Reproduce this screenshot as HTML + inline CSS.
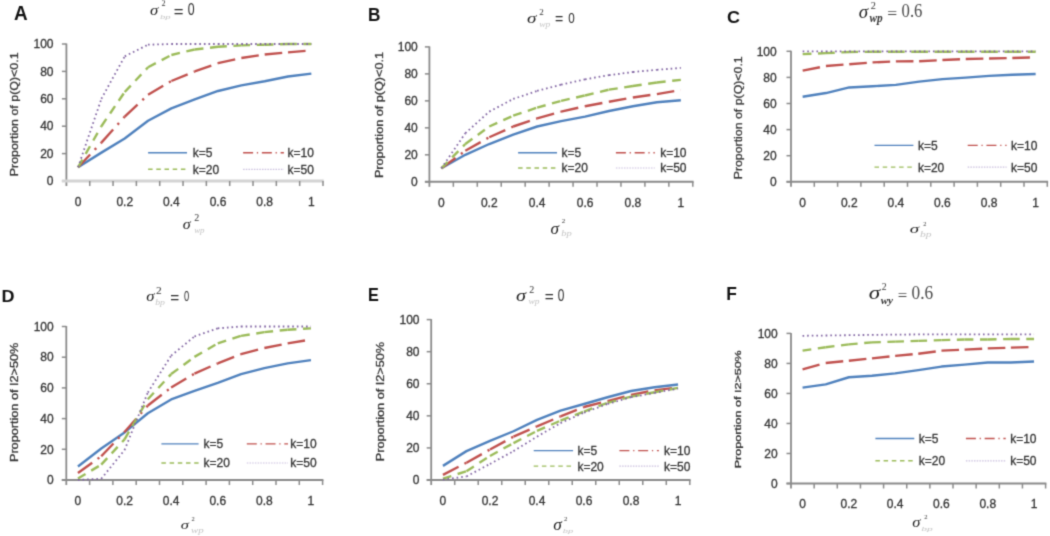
<!DOCTYPE html>
<html><head><meta charset="utf-8"><title>Figure</title>
<style>
html,body{margin:0;padding:0;background:#fff;}
body{width:1050px;height:536px;overflow:hidden;}
svg{display:block;}
.tk{font-family:"Liberation Sans", sans-serif;font-size:12px;fill:#333333;stroke:#333333;stroke-width:0.3px;}
.lg{font-family:"Liberation Sans", sans-serif;font-size:12px;fill:#333333;stroke:#333333;stroke-width:0.3px;}
.yt{font-family:"Liberation Sans", sans-serif;font-size:12px;fill:#333333;}
.let{font-family:"Liberation Sans", sans-serif;font-size:18px;font-weight:bold;fill:#111;}
.sig{font-family:"Liberation Serif", serif;font-style:italic;font-size:17px;fill:#222;}
.sig2{font-family:"Liberation Serif", serif;font-style:italic;font-size:16px;fill:#222;}
.two{font-family:"Liberation Serif", serif;font-size:10px;fill:#333;}
.two2{font-family:"Liberation Serif", serif;font-size:9px;fill:#333;}
.sub{font-family:"Liberation Serif", serif;font-style:italic;font-size:10px;fill:#bbb;}
.sub2{font-family:"Liberation Serif", serif;font-style:italic;font-size:9px;fill:#bbb;}
.subb{font-family:"Liberation Serif", serif;font-style:italic;font-weight:bold;font-size:10px;fill:#333;}
.eq{font-family:"Liberation Sans", sans-serif;fill:#333;}
.eqs{font-family:"Liberation Serif", serif;fill:#333;}
</style></head>
<body>
<svg width="1050" height="536" viewBox="0 0 1050 536">
<defs><filter id="bl" x="0" y="0" width="1050" height="536" filterUnits="userSpaceOnUse" color-interpolation-filters="sRGB"><feConvolveMatrix order="3" kernelMatrix="0.02768 0.11101 0.02768 0.11101 0.44521 0.11101 0.02768 0.11101 0.02768" divisor="1" edgeMode="none" preserveAlpha="false"/></filter></defs>
<rect x="0" y="0" width="1050" height="536" fill="#fff"/>
<g filter="url(#bl)">
<line x1="66.4" y1="43.5" x2="66.4" y2="186" stroke="#8a8a8a" stroke-width="1.8"/>
<line x1="61.9" y1="44" x2="66.4" y2="44" stroke="#8a8a8a" stroke-width="1.5"/>
<line x1="61.9" y1="71.4" x2="66.4" y2="71.4" stroke="#8a8a8a" stroke-width="1.5"/>
<line x1="61.9" y1="98.8" x2="66.4" y2="98.8" stroke="#8a8a8a" stroke-width="1.5"/>
<line x1="61.9" y1="126.2" x2="66.4" y2="126.2" stroke="#8a8a8a" stroke-width="1.5"/>
<line x1="61.9" y1="153.6" x2="66.4" y2="153.6" stroke="#8a8a8a" stroke-width="1.5"/>
<line x1="61.9" y1="181" x2="66.4" y2="181" stroke="#8a8a8a" stroke-width="1.5"/>
<line x1="61.9" y1="181" x2="323.8" y2="181" stroke="#d3d3d3" stroke-width="3.2"/>
<line x1="89.73" y1="181" x2="89.73" y2="186" stroke="#8a8a8a" stroke-width="1.5"/>
<line x1="113.05" y1="181" x2="113.05" y2="186" stroke="#8a8a8a" stroke-width="1.5"/>
<line x1="136.38" y1="181" x2="136.38" y2="186" stroke="#8a8a8a" stroke-width="1.5"/>
<line x1="159.71" y1="181" x2="159.71" y2="186" stroke="#8a8a8a" stroke-width="1.5"/>
<line x1="183.04" y1="181" x2="183.04" y2="186" stroke="#8a8a8a" stroke-width="1.5"/>
<line x1="206.36" y1="181" x2="206.36" y2="186" stroke="#8a8a8a" stroke-width="1.5"/>
<line x1="229.69" y1="181" x2="229.69" y2="186" stroke="#8a8a8a" stroke-width="1.5"/>
<line x1="253.02" y1="181" x2="253.02" y2="186" stroke="#8a8a8a" stroke-width="1.5"/>
<line x1="276.35" y1="181" x2="276.35" y2="186" stroke="#8a8a8a" stroke-width="1.5"/>
<line x1="299.67" y1="181" x2="299.67" y2="186" stroke="#8a8a8a" stroke-width="1.5"/>
<line x1="323" y1="181" x2="323" y2="186" stroke="#8a8a8a" stroke-width="1.5"/>
<text x="53.5" y="48.2" text-anchor="end" class="tk">100</text>
<text x="53.5" y="75.6" text-anchor="end" class="tk">80</text>
<text x="53.5" y="103" text-anchor="end" class="tk">60</text>
<text x="53.5" y="130.4" text-anchor="end" class="tk">40</text>
<text x="53.5" y="157.8" text-anchor="end" class="tk">20</text>
<text x="53.5" y="185.2" text-anchor="end" class="tk">0</text>
<text x="78.06" y="205.6" text-anchor="middle" class="tk">0</text>
<text x="124.72" y="205.6" text-anchor="middle" class="tk">0.2</text>
<text x="171.37" y="205.6" text-anchor="middle" class="tk">0.4</text>
<text x="218.03" y="205.6" text-anchor="middle" class="tk">0.6</text>
<text x="264.68" y="205.6" text-anchor="middle" class="tk">0.8</text>
<text x="311.34" y="205.6" text-anchor="middle" class="tk">1</text>
<polyline points="78.06,167.3 101.39,152.64 124.72,138.53 148.05,120.72 171.37,108.39 194.7,99.48 218.03,90.99 241.35,85.37 264.68,81.26 288.01,76.47 311.34,73.59" fill="none" stroke="#4f81bd" stroke-width="2.4" stroke-linejoin="round"/>
<g stroke="#c0504d" stroke-width="2.4" stroke-dasharray="17.6 6.6 2.2 6.6" fill="none"><line x1="78.06" y1="167.3" x2="101.39" y2="142.64"/><line x1="101.39" y1="142.64" x2="124.72" y2="116.61"/><line x1="124.72" y1="116.61" x2="148.05" y2="94.69"/><line x1="148.05" y1="94.69" x2="171.37" y2="80.99"/><line x1="171.37" y1="80.99" x2="194.7" y2="71.4"/><line x1="194.7" y1="71.4" x2="218.03" y2="63.18"/><line x1="218.03" y1="63.18" x2="241.35" y2="57.97"/><line x1="241.35" y1="57.97" x2="264.68" y2="54.55"/><line x1="264.68" y1="54.55" x2="288.01" y2="52.36"/><line x1="288.01" y1="52.36" x2="311.34" y2="50.44"/></g>
<g stroke="#9bbb59" stroke-width="2.4" stroke-dasharray="8.8 6.6" fill="none"><line x1="78.06" y1="167.3" x2="101.39" y2="126.2"/><line x1="101.39" y1="126.2" x2="124.72" y2="91.95"/><line x1="124.72" y1="91.95" x2="148.05" y2="67.29"/><line x1="148.05" y1="67.29" x2="171.37" y2="54.96"/><line x1="171.37" y1="54.96" x2="194.7" y2="49.48"/><line x1="194.7" y1="49.48" x2="218.03" y2="46.74"/><line x1="218.03" y1="46.74" x2="241.35" y2="45.37"/><line x1="241.35" y1="45.37" x2="264.68" y2="44.69"/><line x1="264.68" y1="44.69" x2="288.01" y2="44"/><line x1="288.01" y1="44" x2="311.34" y2="44"/></g>
<g stroke="#8064a2" stroke-width="1.8" stroke-dasharray="1.6 3.0" fill="none"><line x1="78.06" y1="167.3" x2="101.39" y2="98.8"/><line x1="101.39" y1="98.8" x2="124.72" y2="56.33"/><line x1="124.72" y1="56.33" x2="148.05" y2="44.69"/><line x1="148.05" y1="44.69" x2="171.37" y2="44"/><line x1="171.37" y1="44" x2="194.7" y2="44"/><line x1="194.7" y1="44" x2="218.03" y2="44"/><line x1="218.03" y1="44" x2="241.35" y2="44"/><line x1="241.35" y1="44" x2="264.68" y2="44"/><line x1="264.68" y1="44" x2="288.01" y2="44"/><line x1="288.01" y1="44" x2="311.34" y2="44"/></g>
<line x1="148.1" y1="152.7" x2="187" y2="152.7" stroke="#4f81bd" stroke-width="1.4"/>
<text x="192.8" y="157.1" class="lg">k=5</text>
<line x1="243.1" y1="152.7" x2="283.9" y2="152.7" stroke="#c0504d" stroke-width="1.4" stroke-dasharray="10 3.75 1.25 3.75"/>
<text x="287.5" y="157.1" class="lg">k=10</text>
<line x1="148.1" y1="169.3" x2="187" y2="169.3" stroke="#9bbb59" stroke-width="1.4" stroke-dasharray="4.5 3.7"/>
<text x="192.8" y="173.7" class="lg">k=20</text>
<line x1="243.1" y1="169.3" x2="283.9" y2="169.3" stroke="#c9bedd" stroke-width="1.2" stroke-dasharray="1.5 1.2"/>
<text x="287.5" y="173.7" class="lg">k=50</text>
<text x="13.88" y="20.26" style='font-family:"Liberation Sans", sans-serif;font-weight:bold;font-size:20.59px;' fill="#111" textLength="13.68" lengthAdjust="spacingAndGlyphs">A</text>
<text x="149.95" y="14.9" style='font-family:"Liberation Serif", serif;font-style:italic;font-size:15px;' fill="#1e1e1e" textLength="8.25" lengthAdjust="spacingAndGlyphs">σ</text>
<text x="161.54" y="6.35" style='font-family:"Liberation Serif", serif;font-size:8.15px;' fill="#333" textLength="4.08" lengthAdjust="spacingAndGlyphs">2</text>
<text x="159.92" y="18.87" style='font-family:"Liberation Serif", serif;font-style:italic;font-size:6.56px;' fill="#c4c4c4" textLength="10.65" lengthAdjust="spacingAndGlyphs">bp</text>
<text x="173.72" y="16.75" style='font-family:"Liberation Sans", sans-serif;font-size:16.67px;' fill="#2a2a2a" textLength="9.73" lengthAdjust="spacingAndGlyphs">=</text>
<text x="187.66" y="14.89" style='font-family:"Liberation Sans", sans-serif;font-size:15.78px;' fill="#2a2a2a" textLength="6.84" lengthAdjust="spacingAndGlyphs">0</text>
<text x="182.87" y="228.61" style='font-family:"Liberation Serif", serif;font-style:italic;font-size:14.42px;' fill="#1e1e1e" textLength="7.95" lengthAdjust="spacingAndGlyphs">σ</text>
<text x="194.25" y="221.25" style='font-family:"Liberation Serif", serif;font-size:10px;' fill="#333" textLength="5" lengthAdjust="spacingAndGlyphs">2</text>
<text x="194.18" y="232.74" style='font-family:"Liberation Serif", serif;font-style:italic;font-size:7.65px;' fill="#c4c4c4" textLength="10.41" lengthAdjust="spacingAndGlyphs">wp</text>
<text transform="translate(18.25,176.24) rotate(-90)" style='font-family:"Liberation Sans", sans-serif;font-size:10.96px;' fill="#333333" stroke="#333333" stroke-width="0.3" textLength="123.78" lengthAdjust="spacingAndGlyphs">Proportion of p(Q)&lt;0.1</text>
<line x1="429.4" y1="46.4" x2="429.4" y2="186.8" stroke="#8a8a8a" stroke-width="1.8"/>
<line x1="424.9" y1="46.9" x2="429.4" y2="46.9" stroke="#8a8a8a" stroke-width="1.5"/>
<line x1="424.9" y1="73.88" x2="429.4" y2="73.88" stroke="#8a8a8a" stroke-width="1.5"/>
<line x1="424.9" y1="100.86" x2="429.4" y2="100.86" stroke="#8a8a8a" stroke-width="1.5"/>
<line x1="424.9" y1="127.84" x2="429.4" y2="127.84" stroke="#8a8a8a" stroke-width="1.5"/>
<line x1="424.9" y1="154.82" x2="429.4" y2="154.82" stroke="#8a8a8a" stroke-width="1.5"/>
<line x1="424.9" y1="181.8" x2="429.4" y2="181.8" stroke="#8a8a8a" stroke-width="1.5"/>
<line x1="424.9" y1="181.8" x2="693.6" y2="181.8" stroke="#8a8a8a" stroke-width="2.0"/>
<line x1="453.35" y1="181.8" x2="453.35" y2="186.8" stroke="#8a8a8a" stroke-width="1.5"/>
<line x1="477.29" y1="181.8" x2="477.29" y2="186.8" stroke="#8a8a8a" stroke-width="1.5"/>
<line x1="501.24" y1="181.8" x2="501.24" y2="186.8" stroke="#8a8a8a" stroke-width="1.5"/>
<line x1="525.18" y1="181.8" x2="525.18" y2="186.8" stroke="#8a8a8a" stroke-width="1.5"/>
<line x1="549.13" y1="181.8" x2="549.13" y2="186.8" stroke="#8a8a8a" stroke-width="1.5"/>
<line x1="573.07" y1="181.8" x2="573.07" y2="186.8" stroke="#8a8a8a" stroke-width="1.5"/>
<line x1="597.02" y1="181.8" x2="597.02" y2="186.8" stroke="#8a8a8a" stroke-width="1.5"/>
<line x1="620.96" y1="181.8" x2="620.96" y2="186.8" stroke="#8a8a8a" stroke-width="1.5"/>
<line x1="644.91" y1="181.8" x2="644.91" y2="186.8" stroke="#8a8a8a" stroke-width="1.5"/>
<line x1="668.85" y1="181.8" x2="668.85" y2="186.8" stroke="#8a8a8a" stroke-width="1.5"/>
<line x1="692.8" y1="181.8" x2="692.8" y2="186.8" stroke="#8a8a8a" stroke-width="1.5"/>
<text x="417.8" y="51.1" text-anchor="end" class="tk">100</text>
<text x="417.8" y="78.08" text-anchor="end" class="tk">80</text>
<text x="417.8" y="105.06" text-anchor="end" class="tk">60</text>
<text x="417.8" y="132.04" text-anchor="end" class="tk">40</text>
<text x="417.8" y="159.02" text-anchor="end" class="tk">20</text>
<text x="417.8" y="186" text-anchor="end" class="tk">0</text>
<text x="441.37" y="207.2" text-anchor="middle" class="tk">0</text>
<text x="489.26" y="207.2" text-anchor="middle" class="tk">0.2</text>
<text x="537.15" y="207.2" text-anchor="middle" class="tk">0.4</text>
<text x="585.05" y="207.2" text-anchor="middle" class="tk">0.6</text>
<text x="632.94" y="207.2" text-anchor="middle" class="tk">0.8</text>
<text x="680.83" y="207.2" text-anchor="middle" class="tk">1</text>
<polyline points="441.37,168.31 465.32,154.82 489.26,144.03 513.21,134.59 537.15,126.49 561.1,121.1 585.05,116.64 608.99,110.98 632.94,106.26 656.88,102.21 680.83,100.19" fill="none" stroke="#4f81bd" stroke-width="2.4" stroke-linejoin="round"/>
<g stroke="#c0504d" stroke-width="2.4" stroke-dasharray="17.6 6.6 2.2 6.6" fill="none"><line x1="441.37" y1="168.31" x2="465.32" y2="150.77"/><line x1="465.32" y1="150.77" x2="489.26" y2="137.28"/><line x1="489.26" y1="137.28" x2="513.21" y2="126.49"/><line x1="513.21" y1="126.49" x2="537.15" y2="118.4"/><line x1="537.15" y1="118.4" x2="561.1" y2="111.65"/><line x1="561.1" y1="111.65" x2="585.05" y2="106.26"/><line x1="585.05" y1="106.26" x2="608.99" y2="101.8"/><line x1="608.99" y1="101.8" x2="632.94" y2="97.49"/><line x1="632.94" y1="97.49" x2="656.88" y2="94.12"/><line x1="656.88" y1="94.12" x2="680.83" y2="90.07"/></g>
<g stroke="#9bbb59" stroke-width="2.4" stroke-dasharray="8.8 6.6" fill="none"><line x1="441.37" y1="168.31" x2="465.32" y2="144.03"/><line x1="465.32" y1="144.03" x2="489.26" y2="126.49"/><line x1="489.26" y1="126.49" x2="513.21" y2="115.7"/><line x1="513.21" y1="115.7" x2="537.15" y2="107.61"/><line x1="537.15" y1="107.61" x2="561.1" y2="100.86"/><line x1="561.1" y1="100.86" x2="585.05" y2="95.46"/><line x1="585.05" y1="95.46" x2="608.99" y2="89.66"/><line x1="608.99" y1="89.66" x2="632.94" y2="86.02"/><line x1="632.94" y1="86.02" x2="656.88" y2="82.51"/><line x1="656.88" y1="82.51" x2="680.83" y2="79.82"/></g>
<g stroke="#8064a2" stroke-width="1.8" stroke-dasharray="1.6 3.0" fill="none"><line x1="441.37" y1="168.31" x2="465.32" y2="133.24"/><line x1="465.32" y1="133.24" x2="489.26" y2="111.65"/><line x1="489.26" y1="111.65" x2="513.21" y2="98.97"/><line x1="513.21" y1="98.97" x2="537.15" y2="90.88"/><line x1="537.15" y1="90.88" x2="561.1" y2="84.67"/><line x1="561.1" y1="84.67" x2="585.05" y2="79.28"/><line x1="585.05" y1="79.28" x2="608.99" y2="75.23"/><line x1="608.99" y1="75.23" x2="632.94" y2="71.99"/><line x1="632.94" y1="71.99" x2="656.88" y2="69.83"/><line x1="656.88" y1="69.83" x2="680.83" y2="67.94"/></g>
<line x1="518.1" y1="152.7" x2="557" y2="152.7" stroke="#4f81bd" stroke-width="1.4"/>
<text x="561.6" y="157.1" class="lg">k=5</text>
<line x1="615.9" y1="152.7" x2="654.8" y2="152.7" stroke="#c0504d" stroke-width="1.4" stroke-dasharray="10 3.75 1.25 3.75"/>
<text x="660.2" y="157.1" class="lg">k=10</text>
<line x1="518.1" y1="168" x2="557" y2="168" stroke="#9bbb59" stroke-width="1.4" stroke-dasharray="4.5 3.7"/>
<text x="561.6" y="172.4" class="lg">k=20</text>
<line x1="615.9" y1="168" x2="654.8" y2="168" stroke="#c9bedd" stroke-width="1.2" stroke-dasharray="1.5 1.2"/>
<text x="660.2" y="172.4" class="lg">k=50</text>
<text x="367.95" y="20.55" style='font-family:"Liberation Sans", sans-serif;font-weight:bold;font-size:18.26px;' fill="#111" textLength="12.43" lengthAdjust="spacingAndGlyphs">B</text>
<text x="526.97" y="23.01" style='font-family:"Liberation Serif", serif;font-style:italic;font-size:14.42px;' fill="#1e1e1e" textLength="9.46" lengthAdjust="spacingAndGlyphs">σ</text>
<text x="539.27" y="14.75" style='font-family:"Liberation Serif", serif;font-size:9.08px;' fill="#333" textLength="4.54" lengthAdjust="spacingAndGlyphs">2</text>
<text x="539.17" y="26.67" style='font-family:"Liberation Serif", serif;font-style:italic;font-size:8.97px;' fill="#c4c4c4" textLength="11.04" lengthAdjust="spacingAndGlyphs">wp</text>
<text x="555.04" y="24.27" style='font-family:"Liberation Sans", sans-serif;font-size:14.17px;' fill="#2a2a2a" textLength="8.27" lengthAdjust="spacingAndGlyphs">=</text>
<text x="568.28" y="23" style='font-family:"Liberation Sans", sans-serif;font-size:14.79px;' fill="#2a2a2a" textLength="6.49" lengthAdjust="spacingAndGlyphs">0</text>
<text x="550.64" y="233.69" style='font-family:"Liberation Serif", serif;font-style:italic;font-size:16.15px;' fill="#1e1e1e" textLength="8.46" lengthAdjust="spacingAndGlyphs">σ</text>
<text x="561.64" y="223.25" style='font-family:"Liberation Serif", serif;font-size:6.92px;' fill="#333" textLength="3.46" lengthAdjust="spacingAndGlyphs">2</text>
<text x="561.33" y="236.19" style='font-family:"Liberation Serif", serif;font-style:italic;font-size:7.89px;' fill="#c4c4c4" textLength="10.54" lengthAdjust="spacingAndGlyphs">bp</text>
<text transform="translate(382.67,178.06) rotate(-90)" style='font-family:"Liberation Sans", sans-serif;font-size:10.85px;' fill="#333333" stroke="#333333" stroke-width="0.3" textLength="126.01" lengthAdjust="spacingAndGlyphs">Proportion of p(Q)&lt;0.1</text>
<line x1="791" y1="50.8" x2="791" y2="186.8" stroke="#8a8a8a" stroke-width="1.8"/>
<line x1="786.5" y1="51.3" x2="791" y2="51.3" stroke="#8a8a8a" stroke-width="1.5"/>
<line x1="786.5" y1="77.4" x2="791" y2="77.4" stroke="#8a8a8a" stroke-width="1.5"/>
<line x1="786.5" y1="103.5" x2="791" y2="103.5" stroke="#8a8a8a" stroke-width="1.5"/>
<line x1="786.5" y1="129.6" x2="791" y2="129.6" stroke="#8a8a8a" stroke-width="1.5"/>
<line x1="786.5" y1="155.7" x2="791" y2="155.7" stroke="#8a8a8a" stroke-width="1.5"/>
<line x1="786.5" y1="181.8" x2="791" y2="181.8" stroke="#8a8a8a" stroke-width="1.5"/>
<line x1="786.5" y1="181.8" x2="1048.1" y2="181.8" stroke="#8a8a8a" stroke-width="2.0"/>
<line x1="814.3" y1="181.8" x2="814.3" y2="186.8" stroke="#8a8a8a" stroke-width="1.5"/>
<line x1="837.6" y1="181.8" x2="837.6" y2="186.8" stroke="#8a8a8a" stroke-width="1.5"/>
<line x1="860.9" y1="181.8" x2="860.9" y2="186.8" stroke="#8a8a8a" stroke-width="1.5"/>
<line x1="884.2" y1="181.8" x2="884.2" y2="186.8" stroke="#8a8a8a" stroke-width="1.5"/>
<line x1="907.5" y1="181.8" x2="907.5" y2="186.8" stroke="#8a8a8a" stroke-width="1.5"/>
<line x1="930.8" y1="181.8" x2="930.8" y2="186.8" stroke="#8a8a8a" stroke-width="1.5"/>
<line x1="954.1" y1="181.8" x2="954.1" y2="186.8" stroke="#8a8a8a" stroke-width="1.5"/>
<line x1="977.4" y1="181.8" x2="977.4" y2="186.8" stroke="#8a8a8a" stroke-width="1.5"/>
<line x1="1000.7" y1="181.8" x2="1000.7" y2="186.8" stroke="#8a8a8a" stroke-width="1.5"/>
<line x1="1024" y1="181.8" x2="1024" y2="186.8" stroke="#8a8a8a" stroke-width="1.5"/>
<line x1="1047.3" y1="181.8" x2="1047.3" y2="186.8" stroke="#8a8a8a" stroke-width="1.5"/>
<text x="776.7" y="55.5" text-anchor="end" class="tk">100</text>
<text x="776.7" y="81.6" text-anchor="end" class="tk">80</text>
<text x="776.7" y="107.7" text-anchor="end" class="tk">60</text>
<text x="776.7" y="133.8" text-anchor="end" class="tk">40</text>
<text x="776.7" y="159.9" text-anchor="end" class="tk">20</text>
<text x="776.7" y="186" text-anchor="end" class="tk">0</text>
<text x="802.65" y="206.8" text-anchor="middle" class="tk">0</text>
<text x="849.25" y="206.8" text-anchor="middle" class="tk">0.2</text>
<text x="895.85" y="206.8" text-anchor="middle" class="tk">0.4</text>
<text x="942.45" y="206.8" text-anchor="middle" class="tk">0.6</text>
<text x="989.05" y="206.8" text-anchor="middle" class="tk">0.8</text>
<text x="1035.65" y="206.8" text-anchor="middle" class="tk">1</text>
<polyline points="802.65,96.71 825.95,93.06 849.25,87.45 872.55,86.27 895.85,84.84 919.15,81.58 942.45,79.1 965.75,77.66 989.05,75.83 1012.35,74.79 1035.65,74.01" fill="none" stroke="#4f81bd" stroke-width="2.4" stroke-linejoin="round"/>
<g stroke="#c0504d" stroke-width="2.4" stroke-dasharray="17.6 6.6 2.2 6.6" fill="none"><line x1="802.65" y1="70.61" x2="825.95" y2="66.05"/><line x1="825.95" y1="66.05" x2="849.25" y2="64.22"/><line x1="849.25" y1="64.22" x2="872.55" y2="62.39"/><line x1="872.55" y1="62.39" x2="895.85" y2="61.35"/><line x1="895.85" y1="61.35" x2="919.15" y2="61.22"/><line x1="919.15" y1="61.22" x2="942.45" y2="60.04"/><line x1="942.45" y1="60.04" x2="965.75" y2="59"/><line x1="965.75" y1="59" x2="989.05" y2="58.48"/><line x1="989.05" y1="58.48" x2="1012.35" y2="57.96"/><line x1="1012.35" y1="57.96" x2="1035.65" y2="57.43"/></g>
<g stroke="#9bbb59" stroke-width="2.4" stroke-dasharray="8.8 6.6" fill="none"><line x1="802.65" y1="54.17" x2="825.95" y2="53.13"/><line x1="825.95" y1="53.13" x2="849.25" y2="51.95"/><line x1="849.25" y1="51.95" x2="872.55" y2="51.82"/><line x1="872.55" y1="51.82" x2="895.85" y2="51.69"/><line x1="895.85" y1="51.69" x2="919.15" y2="51.69"/><line x1="919.15" y1="51.69" x2="942.45" y2="51.69"/><line x1="942.45" y1="51.69" x2="965.75" y2="51.69"/><line x1="965.75" y1="51.69" x2="989.05" y2="51.69"/><line x1="989.05" y1="51.69" x2="1012.35" y2="51.69"/><line x1="1012.35" y1="51.69" x2="1035.65" y2="51.69"/></g>
<g stroke="#8064a2" stroke-width="1.8" stroke-dasharray="1.6 3.0" fill="none"><line x1="802.65" y1="51.3" x2="825.95" y2="51.3"/><line x1="825.95" y1="51.3" x2="849.25" y2="51.3"/><line x1="849.25" y1="51.3" x2="872.55" y2="51.3"/><line x1="872.55" y1="51.3" x2="895.85" y2="51.3"/><line x1="895.85" y1="51.3" x2="919.15" y2="51.3"/><line x1="919.15" y1="51.3" x2="942.45" y2="51.3"/><line x1="942.45" y1="51.3" x2="965.75" y2="51.3"/><line x1="965.75" y1="51.3" x2="989.05" y2="51.3"/><line x1="989.05" y1="51.3" x2="1012.35" y2="51.3"/><line x1="1012.35" y1="51.3" x2="1035.65" y2="51.3"/></g>
<line x1="874.5" y1="145.4" x2="913.4" y2="145.4" stroke="#4f81bd" stroke-width="1.4"/>
<text x="917.9" y="149.8" class="lg">k=5</text>
<line x1="967.7" y1="145.4" x2="1006.6" y2="145.4" stroke="#c0504d" stroke-width="1.4" stroke-dasharray="10 3.75 1.25 3.75"/>
<text x="1011.1" y="149.8" class="lg">k=10</text>
<line x1="874.5" y1="167.1" x2="913.4" y2="167.1" stroke="#9bbb59" stroke-width="1.4" stroke-dasharray="4.5 3.7"/>
<text x="917.9" y="171.5" class="lg">k=20</text>
<line x1="967.7" y1="167.1" x2="1006.6" y2="167.1" stroke="#c9bedd" stroke-width="1.2" stroke-dasharray="1.5 1.2"/>
<text x="1011.1" y="171.5" class="lg">k=50</text>
<text x="727.13" y="23.39" style='font-family:"Liberation Sans", sans-serif;font-weight:bold;font-size:16.48px;' fill="#111" textLength="13" lengthAdjust="spacingAndGlyphs">C</text>
<text x="858.68" y="17.67" style='font-family:"Liberation Serif", serif;font-style:italic;font-size:18.08px;' fill="#1e1e1e" textLength="9.36" lengthAdjust="spacingAndGlyphs">σ</text>
<text x="870.78" y="9.05" style='font-family:"Liberation Serif", serif;font-size:10.31px;' fill="#333" textLength="5.15" lengthAdjust="spacingAndGlyphs">2</text>
<text x="869.45" y="21.99" style='font-family:"Liberation Serif", serif;font-style:italic;font-weight:bold;font-size:12.65px;' fill="#333" textLength="13.21" lengthAdjust="spacingAndGlyphs">wp</text>
<text x="887.27" y="18.67" style='font-family:"Liberation Serif", serif;font-size:17.66px;' fill="#4a4a4a" textLength="9.96" lengthAdjust="spacingAndGlyphs">=</text>
<text x="901.58" y="17.49" style='font-family:"Liberation Serif", serif;font-size:18.06px;' fill="#4a4a4a" textLength="20.87" lengthAdjust="spacingAndGlyphs">0.6</text>
<text x="909.78" y="233.32" style='font-family:"Liberation Serif", serif;font-style:italic;font-size:13.46px;' fill="#1e1e1e" textLength="9.36" lengthAdjust="spacingAndGlyphs">σ</text>
<text x="923.14" y="225.55" style='font-family:"Liberation Serif", serif;font-size:6.31px;' fill="#333" textLength="3.15" lengthAdjust="spacingAndGlyphs">2</text>
<text x="919.99" y="236.89" style='font-family:"Liberation Serif", serif;font-style:italic;font-size:7.89px;' fill="#c4c4c4" textLength="11.61" lengthAdjust="spacingAndGlyphs">bp</text>
<text transform="translate(742.47,179.34) rotate(-90)" style='font-family:"Liberation Sans", sans-serif;font-size:11.81px;' fill="#333333" stroke="#333333" stroke-width="0.3" textLength="123.07" lengthAdjust="spacingAndGlyphs">Proportion of p(Q)&lt;0.1</text>
<line x1="66.3" y1="326" x2="66.3" y2="485" stroke="#8a8a8a" stroke-width="1.8"/>
<line x1="61.8" y1="326.5" x2="66.3" y2="326.5" stroke="#8a8a8a" stroke-width="1.5"/>
<line x1="61.8" y1="357.2" x2="66.3" y2="357.2" stroke="#8a8a8a" stroke-width="1.5"/>
<line x1="61.8" y1="387.9" x2="66.3" y2="387.9" stroke="#8a8a8a" stroke-width="1.5"/>
<line x1="61.8" y1="418.6" x2="66.3" y2="418.6" stroke="#8a8a8a" stroke-width="1.5"/>
<line x1="61.8" y1="449.3" x2="66.3" y2="449.3" stroke="#8a8a8a" stroke-width="1.5"/>
<line x1="61.8" y1="480" x2="66.3" y2="480" stroke="#8a8a8a" stroke-width="1.5"/>
<line x1="61.8" y1="480" x2="323.4" y2="480" stroke="#8a8a8a" stroke-width="2.0"/>
<line x1="89.6" y1="480" x2="89.6" y2="485" stroke="#8a8a8a" stroke-width="1.5"/>
<line x1="112.9" y1="480" x2="112.9" y2="485" stroke="#8a8a8a" stroke-width="1.5"/>
<line x1="136.2" y1="480" x2="136.2" y2="485" stroke="#8a8a8a" stroke-width="1.5"/>
<line x1="159.5" y1="480" x2="159.5" y2="485" stroke="#8a8a8a" stroke-width="1.5"/>
<line x1="182.8" y1="480" x2="182.8" y2="485" stroke="#8a8a8a" stroke-width="1.5"/>
<line x1="206.1" y1="480" x2="206.1" y2="485" stroke="#8a8a8a" stroke-width="1.5"/>
<line x1="229.4" y1="480" x2="229.4" y2="485" stroke="#8a8a8a" stroke-width="1.5"/>
<line x1="252.7" y1="480" x2="252.7" y2="485" stroke="#8a8a8a" stroke-width="1.5"/>
<line x1="276" y1="480" x2="276" y2="485" stroke="#8a8a8a" stroke-width="1.5"/>
<line x1="299.3" y1="480" x2="299.3" y2="485" stroke="#8a8a8a" stroke-width="1.5"/>
<line x1="322.6" y1="480" x2="322.6" y2="485" stroke="#8a8a8a" stroke-width="1.5"/>
<text x="53.7" y="330.7" text-anchor="end" class="tk">100</text>
<text x="53.7" y="361.4" text-anchor="end" class="tk">80</text>
<text x="53.7" y="392.1" text-anchor="end" class="tk">60</text>
<text x="53.7" y="422.8" text-anchor="end" class="tk">40</text>
<text x="53.7" y="453.5" text-anchor="end" class="tk">20</text>
<text x="53.7" y="484.2" text-anchor="end" class="tk">0</text>
<text x="77.95" y="504.7" text-anchor="middle" class="tk">0</text>
<text x="124.55" y="504.7" text-anchor="middle" class="tk">0.2</text>
<text x="171.15" y="504.7" text-anchor="middle" class="tk">0.4</text>
<text x="217.75" y="504.7" text-anchor="middle" class="tk">0.6</text>
<text x="264.35" y="504.7" text-anchor="middle" class="tk">0.8</text>
<text x="310.95" y="504.7" text-anchor="middle" class="tk">1</text>
<polyline points="77.95,466.49 101.25,448.53 124.55,432.42 147.85,413.23 171.15,399.41 194.45,390.97 217.75,382.83 241.05,374.09 264.35,368.1 287.65,363.34 310.95,360.12" fill="none" stroke="#4f81bd" stroke-width="2.4" stroke-linejoin="round"/>
<g stroke="#c0504d" stroke-width="2.4" stroke-dasharray="17.6 6.6 2.2 6.6" fill="none"><line x1="77.95" y1="473.09" x2="101.25" y2="456.21"/><line x1="101.25" y1="456.21" x2="124.55" y2="431.95"/><line x1="124.55" y1="431.95" x2="147.85" y2="405.55"/><line x1="147.85" y1="405.55" x2="171.15" y2="387.44"/><line x1="171.15" y1="387.44" x2="194.45" y2="373.62"/><line x1="194.45" y1="373.62" x2="217.75" y2="363.34"/><line x1="217.75" y1="363.34" x2="241.05" y2="354.13"/><line x1="241.05" y1="354.13" x2="264.35" y2="347.99"/><line x1="264.35" y1="347.99" x2="287.65" y2="343.38"/><line x1="287.65" y1="343.38" x2="310.95" y2="339.55"/></g>
<g stroke="#9bbb59" stroke-width="2.4" stroke-dasharray="8.8 6.6" fill="none"><line x1="77.95" y1="478.46" x2="101.25" y2="464.65"/><line x1="101.25" y1="464.65" x2="124.55" y2="439.32"/><line x1="124.55" y1="439.32" x2="147.85" y2="399.26"/><line x1="147.85" y1="399.26" x2="171.15" y2="374.09"/><line x1="171.15" y1="374.09" x2="194.45" y2="356.89"/><line x1="194.45" y1="356.89" x2="217.75" y2="343.38"/><line x1="217.75" y1="343.38" x2="241.05" y2="335.86"/><line x1="241.05" y1="335.86" x2="264.35" y2="332.18"/><line x1="264.35" y1="332.18" x2="287.65" y2="329.72"/><line x1="287.65" y1="329.72" x2="310.95" y2="328.34"/></g>
<g stroke="#8064a2" stroke-width="1.8" stroke-dasharray="1.6 3.0" fill="none"><line x1="77.95" y1="480" x2="101.25" y2="478.77"/><line x1="101.25" y1="478.77" x2="124.55" y2="450.07"/><line x1="124.55" y1="450.07" x2="147.85" y2="392.5"/><line x1="147.85" y1="392.5" x2="171.15" y2="355.67"/><line x1="171.15" y1="355.67" x2="194.45" y2="336.48"/><line x1="194.45" y1="336.48" x2="217.75" y2="328.34"/><line x1="217.75" y1="328.34" x2="241.05" y2="326.5"/><line x1="241.05" y1="326.5" x2="264.35" y2="326.5"/><line x1="264.35" y1="326.5" x2="287.65" y2="326.5"/><line x1="287.65" y1="326.5" x2="310.95" y2="326.5"/></g>
<line x1="161.4" y1="443.9" x2="198.6" y2="443.9" stroke="#4f81bd" stroke-width="1.4"/>
<text x="203.6" y="448.3" class="lg">k=5</text>
<line x1="246.8" y1="443.9" x2="288" y2="443.9" stroke="#c0504d" stroke-width="1.4" stroke-dasharray="10 3.75 1.25 3.75"/>
<text x="290.3" y="448.3" class="lg">k=10</text>
<line x1="161.4" y1="463" x2="198.6" y2="463" stroke="#9bbb59" stroke-width="1.4" stroke-dasharray="4.5 3.7"/>
<text x="203.6" y="467.4" class="lg">k=20</text>
<line x1="246.8" y1="463" x2="288" y2="463" stroke="#c9bedd" stroke-width="1.2" stroke-dasharray="1.5 1.2"/>
<text x="290.3" y="467.4" class="lg">k=50</text>
<text x="1.49" y="302.45" style='font-family:"Liberation Sans", sans-serif;font-weight:bold;font-size:16.96px;' fill="#111" textLength="13.02" lengthAdjust="spacingAndGlyphs">D</text>
<text x="146.25" y="301.1" style='font-family:"Liberation Serif", serif;font-style:italic;font-size:14.81px;' fill="#1e1e1e" textLength="8.25" lengthAdjust="spacingAndGlyphs">σ</text>
<text x="155.97" y="293.85" style='font-family:"Liberation Serif", serif;font-size:11.38px;' fill="#333" textLength="5.69" lengthAdjust="spacingAndGlyphs">2</text>
<text x="155.16" y="304.99" style='font-family:"Liberation Serif", serif;font-style:italic;font-size:7.89px;' fill="#c4c4c4" textLength="9.78" lengthAdjust="spacingAndGlyphs">bp</text>
<text x="170.28" y="302.64" style='font-family:"Liberation Sans", sans-serif;font-size:15.42px;' fill="#2a2a2a" textLength="9" lengthAdjust="spacingAndGlyphs">=</text>
<text x="184.08" y="301.1" style='font-family:"Liberation Sans", sans-serif;font-size:15.21px;' fill="#2a2a2a" textLength="5.21" lengthAdjust="spacingAndGlyphs">0</text>
<text x="180.85" y="529.42" style='font-family:"Liberation Serif", serif;font-style:italic;font-size:13.08px;' fill="#1e1e1e" textLength="8.15" lengthAdjust="spacingAndGlyphs">σ</text>
<text x="191.45" y="520.55" style='font-family:"Liberation Serif", serif;font-size:6.46px;' fill="#333" textLength="3.23" lengthAdjust="spacingAndGlyphs">2</text>
<text x="191.12" y="532.88" style='font-family:"Liberation Serif", serif;font-style:italic;font-size:7.94px;' fill="#c4c4c4" textLength="12.72" lengthAdjust="spacingAndGlyphs">wp</text>
<text transform="translate(18.43,462.06) rotate(-90)" style='font-family:"Liberation Sans", sans-serif;font-size:10.11px;' fill="#333333" stroke="#333333" stroke-width="0.3" textLength="119.43" lengthAdjust="spacingAndGlyphs">Proportion of I2&gt;50%</text>
<line x1="431.2" y1="319.1" x2="431.2" y2="485" stroke="#8a8a8a" stroke-width="1.8"/>
<line x1="426.7" y1="319.6" x2="431.2" y2="319.6" stroke="#8a8a8a" stroke-width="1.5"/>
<line x1="426.7" y1="351.68" x2="431.2" y2="351.68" stroke="#8a8a8a" stroke-width="1.5"/>
<line x1="426.7" y1="383.76" x2="431.2" y2="383.76" stroke="#8a8a8a" stroke-width="1.5"/>
<line x1="426.7" y1="415.84" x2="431.2" y2="415.84" stroke="#8a8a8a" stroke-width="1.5"/>
<line x1="426.7" y1="447.92" x2="431.2" y2="447.92" stroke="#8a8a8a" stroke-width="1.5"/>
<line x1="426.7" y1="480" x2="431.2" y2="480" stroke="#8a8a8a" stroke-width="1.5"/>
<line x1="426.7" y1="480" x2="690.6" y2="480" stroke="#8a8a8a" stroke-width="2.0"/>
<line x1="454.71" y1="480" x2="454.71" y2="485" stroke="#8a8a8a" stroke-width="1.5"/>
<line x1="478.22" y1="480" x2="478.22" y2="485" stroke="#8a8a8a" stroke-width="1.5"/>
<line x1="501.73" y1="480" x2="501.73" y2="485" stroke="#8a8a8a" stroke-width="1.5"/>
<line x1="525.24" y1="480" x2="525.24" y2="485" stroke="#8a8a8a" stroke-width="1.5"/>
<line x1="548.75" y1="480" x2="548.75" y2="485" stroke="#8a8a8a" stroke-width="1.5"/>
<line x1="572.25" y1="480" x2="572.25" y2="485" stroke="#8a8a8a" stroke-width="1.5"/>
<line x1="595.76" y1="480" x2="595.76" y2="485" stroke="#8a8a8a" stroke-width="1.5"/>
<line x1="619.27" y1="480" x2="619.27" y2="485" stroke="#8a8a8a" stroke-width="1.5"/>
<line x1="642.78" y1="480" x2="642.78" y2="485" stroke="#8a8a8a" stroke-width="1.5"/>
<line x1="666.29" y1="480" x2="666.29" y2="485" stroke="#8a8a8a" stroke-width="1.5"/>
<line x1="689.8" y1="480" x2="689.8" y2="485" stroke="#8a8a8a" stroke-width="1.5"/>
<text x="419.5" y="323.8" text-anchor="end" class="tk">100</text>
<text x="419.5" y="355.88" text-anchor="end" class="tk">80</text>
<text x="419.5" y="387.96" text-anchor="end" class="tk">60</text>
<text x="419.5" y="420.04" text-anchor="end" class="tk">40</text>
<text x="419.5" y="452.12" text-anchor="end" class="tk">20</text>
<text x="419.5" y="484.2" text-anchor="end" class="tk">0</text>
<text x="442.95" y="504.5" text-anchor="middle" class="tk">0</text>
<text x="489.97" y="504.5" text-anchor="middle" class="tk">0.2</text>
<text x="536.99" y="504.5" text-anchor="middle" class="tk">0.4</text>
<text x="584.01" y="504.5" text-anchor="middle" class="tk">0.6</text>
<text x="631.03" y="504.5" text-anchor="middle" class="tk">0.8</text>
<text x="678.05" y="504.5" text-anchor="middle" class="tk">1</text>
<polyline points="442.95,465.88 466.46,451.13 489.97,440.86 513.48,431.24 536.99,419.85 560.5,410.55 584.01,403.97 607.52,397.23 631.03,390.98 654.54,387.29 678.05,384.56" fill="none" stroke="#4f81bd" stroke-width="2.4" stroke-linejoin="round"/>
<g stroke="#c0504d" stroke-width="2.4" stroke-dasharray="17.6 6.6 2.2 6.6" fill="none"><line x1="442.95" y1="474.87" x2="466.46" y2="462.68"/><line x1="466.46" y1="462.68" x2="489.97" y2="449.52"/><line x1="489.97" y1="449.52" x2="513.48" y2="436.69"/><line x1="513.48" y1="436.69" x2="536.99" y2="426.27"/><line x1="536.99" y1="426.27" x2="560.5" y2="416.48"/><line x1="560.5" y1="416.48" x2="584.01" y2="407.02"/><line x1="584.01" y1="407.02" x2="607.52" y2="401.08"/><line x1="607.52" y1="401.08" x2="631.03" y2="394.83"/><line x1="631.03" y1="394.83" x2="654.54" y2="390.34"/><line x1="654.54" y1="390.34" x2="678.05" y2="387.29"/></g>
<g stroke="#9bbb59" stroke-width="2.4" stroke-dasharray="8.8 6.6" fill="none"><line x1="442.95" y1="478.72" x2="466.46" y2="471.18"/><line x1="466.46" y1="471.18" x2="489.97" y2="455.94"/><line x1="489.97" y1="455.94" x2="513.48" y2="443.11"/><line x1="513.48" y1="443.11" x2="536.99" y2="430.92"/><line x1="536.99" y1="430.92" x2="560.5" y2="420.65"/><line x1="560.5" y1="420.65" x2="584.01" y2="411.51"/><line x1="584.01" y1="411.51" x2="607.52" y2="402.85"/><line x1="607.52" y1="402.85" x2="631.03" y2="396.59"/><line x1="631.03" y1="396.59" x2="654.54" y2="392.26"/><line x1="654.54" y1="392.26" x2="678.05" y2="387.93"/></g>
<g stroke="#8064a2" stroke-width="1.8" stroke-dasharray="1.6 3.0" fill="none"><line x1="442.95" y1="479.52" x2="466.46" y2="476.47"/><line x1="466.46" y1="476.47" x2="489.97" y2="463.96"/><line x1="489.97" y1="463.96" x2="513.48" y2="451.13"/><line x1="513.48" y1="451.13" x2="536.99" y2="436.69"/><line x1="536.99" y1="436.69" x2="560.5" y2="423.06"/><line x1="560.5" y1="423.06" x2="584.01" y2="412.63"/><line x1="584.01" y1="412.63" x2="607.52" y2="403.97"/><line x1="607.52" y1="403.97" x2="631.03" y2="397.23"/><line x1="631.03" y1="397.23" x2="654.54" y2="392.9"/><line x1="654.54" y1="392.9" x2="678.05" y2="388.57"/></g>
<line x1="533.7" y1="450.6" x2="573.1" y2="450.6" stroke="#4f81bd" stroke-width="1.4"/>
<text x="577.4" y="455" class="lg">k=5</text>
<line x1="619.4" y1="450.6" x2="658.9" y2="450.6" stroke="#c0504d" stroke-width="1.4" stroke-dasharray="10 3.75 1.25 3.75"/>
<text x="664" y="455" class="lg">k=10</text>
<line x1="533.7" y1="466.1" x2="573.1" y2="466.1" stroke="#9bbb59" stroke-width="1.4" stroke-dasharray="4.5 3.7"/>
<text x="577.4" y="470.5" class="lg">k=20</text>
<line x1="619.4" y1="466.1" x2="658.9" y2="466.1" stroke="#c9bedd" stroke-width="1.2" stroke-dasharray="1.5 1.2"/>
<text x="664" y="470.5" class="lg">k=50</text>
<text x="368.01" y="300.55" style='font-family:"Liberation Sans", sans-serif;font-weight:bold;font-size:17.54px;' fill="#111" textLength="10.84" lengthAdjust="spacingAndGlyphs">E</text>
<text x="516.14" y="300.79" style='font-family:"Liberation Serif", serif;font-style:italic;font-size:15.77px;' fill="#1e1e1e" textLength="9.97" lengthAdjust="spacingAndGlyphs">σ</text>
<text x="529.15" y="292.65" style='font-family:"Liberation Serif", serif;font-size:10px;' fill="#333" textLength="5" lengthAdjust="spacingAndGlyphs">2</text>
<text x="528.47" y="303.88" style='font-family:"Liberation Serif", serif;font-style:italic;font-size:7.94px;' fill="#c4c4c4" textLength="11.04" lengthAdjust="spacingAndGlyphs">wp</text>
<text x="544.78" y="301.69" style='font-family:"Liberation Sans", sans-serif;font-size:15.42px;' fill="#2a2a2a" textLength="9" lengthAdjust="spacingAndGlyphs">=</text>
<text x="557.68" y="301.09" style='font-family:"Liberation Sans", sans-serif;font-size:16.48px;' fill="#2a2a2a" textLength="6.61" lengthAdjust="spacingAndGlyphs">0</text>
<text x="553.23" y="529.69" style='font-family:"Liberation Serif", serif;font-style:italic;font-size:16.15px;' fill="#1e1e1e" textLength="8.56" lengthAdjust="spacingAndGlyphs">σ</text>
<text x="563.98" y="520.55" style='font-family:"Liberation Serif", serif;font-size:6.77px;' fill="#333" textLength="3.38" lengthAdjust="spacingAndGlyphs">2</text>
<text x="562.73" y="532.52" style='font-family:"Liberation Serif", serif;font-style:italic;font-size:6.33px;' fill="#c4c4c4" textLength="10.43" lengthAdjust="spacingAndGlyphs">bp</text>
<text transform="translate(383.98,461.26) rotate(-90)" style='font-family:"Liberation Sans", sans-serif;font-size:10.32px;' fill="#333333" stroke="#333333" stroke-width="0.3" textLength="119.33" lengthAdjust="spacingAndGlyphs">Proportion of I2&gt;50%</text>
<line x1="791" y1="332.9" x2="791" y2="488.5" stroke="#8a8a8a" stroke-width="1.8"/>
<line x1="786.5" y1="333.4" x2="791" y2="333.4" stroke="#8a8a8a" stroke-width="1.5"/>
<line x1="786.5" y1="363.42" x2="791" y2="363.42" stroke="#8a8a8a" stroke-width="1.5"/>
<line x1="786.5" y1="393.44" x2="791" y2="393.44" stroke="#8a8a8a" stroke-width="1.5"/>
<line x1="786.5" y1="423.46" x2="791" y2="423.46" stroke="#8a8a8a" stroke-width="1.5"/>
<line x1="786.5" y1="453.48" x2="791" y2="453.48" stroke="#8a8a8a" stroke-width="1.5"/>
<line x1="786.5" y1="483.5" x2="791" y2="483.5" stroke="#8a8a8a" stroke-width="1.5"/>
<line x1="786.5" y1="483.5" x2="1046.4" y2="483.5" stroke="#8a8a8a" stroke-width="2.0"/>
<line x1="814.15" y1="483.5" x2="814.15" y2="488.5" stroke="#8a8a8a" stroke-width="1.5"/>
<line x1="837.29" y1="483.5" x2="837.29" y2="488.5" stroke="#8a8a8a" stroke-width="1.5"/>
<line x1="860.44" y1="483.5" x2="860.44" y2="488.5" stroke="#8a8a8a" stroke-width="1.5"/>
<line x1="883.58" y1="483.5" x2="883.58" y2="488.5" stroke="#8a8a8a" stroke-width="1.5"/>
<line x1="906.73" y1="483.5" x2="906.73" y2="488.5" stroke="#8a8a8a" stroke-width="1.5"/>
<line x1="929.87" y1="483.5" x2="929.87" y2="488.5" stroke="#8a8a8a" stroke-width="1.5"/>
<line x1="953.02" y1="483.5" x2="953.02" y2="488.5" stroke="#8a8a8a" stroke-width="1.5"/>
<line x1="976.16" y1="483.5" x2="976.16" y2="488.5" stroke="#8a8a8a" stroke-width="1.5"/>
<line x1="999.31" y1="483.5" x2="999.31" y2="488.5" stroke="#8a8a8a" stroke-width="1.5"/>
<line x1="1022.45" y1="483.5" x2="1022.45" y2="488.5" stroke="#8a8a8a" stroke-width="1.5"/>
<line x1="1045.6" y1="483.5" x2="1045.6" y2="488.5" stroke="#8a8a8a" stroke-width="1.5"/>
<text x="777.7" y="337.6" text-anchor="end" class="tk">100</text>
<text x="777.7" y="367.62" text-anchor="end" class="tk">80</text>
<text x="777.7" y="397.64" text-anchor="end" class="tk">60</text>
<text x="777.7" y="427.66" text-anchor="end" class="tk">40</text>
<text x="777.7" y="457.68" text-anchor="end" class="tk">20</text>
<text x="777.7" y="487.7" text-anchor="end" class="tk">0</text>
<text x="802.57" y="507.7" text-anchor="middle" class="tk">0</text>
<text x="848.86" y="507.7" text-anchor="middle" class="tk">0.2</text>
<text x="895.15" y="507.7" text-anchor="middle" class="tk">0.4</text>
<text x="941.45" y="507.7" text-anchor="middle" class="tk">0.6</text>
<text x="987.74" y="507.7" text-anchor="middle" class="tk">0.8</text>
<text x="1034.03" y="507.7" text-anchor="middle" class="tk">1</text>
<polyline points="802.57,387.59 825.72,384.43 848.86,377.23 872.01,375.73 895.15,373.33 918.3,370.17 941.45,366.57 964.59,364.62 987.74,362.52 1010.88,362.52 1034.03,361.47" fill="none" stroke="#4f81bd" stroke-width="2.4" stroke-linejoin="round"/>
<g stroke="#c0504d" stroke-width="2.4" stroke-dasharray="17.6 6.6 2.2 6.6" fill="none"><line x1="802.57" y1="369.42" x2="825.72" y2="362.97"/><line x1="825.72" y1="362.97" x2="848.86" y2="360.72"/><line x1="848.86" y1="360.72" x2="872.01" y2="358.32"/><line x1="872.01" y1="358.32" x2="895.15" y2="355.91"/><line x1="895.15" y1="355.91" x2="918.3" y2="353.81"/><line x1="918.3" y1="353.81" x2="941.45" y2="350.66"/><line x1="941.45" y1="350.66" x2="964.59" y2="349.61"/><line x1="964.59" y1="349.61" x2="987.74" y2="348.41"/><line x1="987.74" y1="348.41" x2="1010.88" y2="347.66"/><line x1="1010.88" y1="347.66" x2="1034.03" y2="346.91"/></g>
<g stroke="#9bbb59" stroke-width="2.4" stroke-dasharray="8.8 6.6" fill="none"><line x1="802.57" y1="350.66" x2="825.72" y2="347.21"/><line x1="825.72" y1="347.21" x2="848.86" y2="344.36"/><line x1="848.86" y1="344.36" x2="872.01" y2="342.41"/><line x1="872.01" y1="342.41" x2="895.15" y2="341.66"/><line x1="895.15" y1="341.66" x2="918.3" y2="340.9"/><line x1="918.3" y1="340.9" x2="941.45" y2="340.15"/><line x1="941.45" y1="340.15" x2="964.59" y2="339.55"/><line x1="964.59" y1="339.55" x2="987.74" y2="339.55"/><line x1="987.74" y1="339.55" x2="1010.88" y2="338.95"/><line x1="1010.88" y1="338.95" x2="1034.03" y2="338.95"/></g>
<g stroke="#8064a2" stroke-width="1.8" stroke-dasharray="1.6 3.0" fill="none"><line x1="802.57" y1="335.8" x2="825.72" y2="335.5"/><line x1="825.72" y1="335.5" x2="848.86" y2="335.2"/><line x1="848.86" y1="335.2" x2="872.01" y2="334.9"/><line x1="872.01" y1="334.9" x2="895.15" y2="334.6"/><line x1="895.15" y1="334.6" x2="918.3" y2="334.45"/><line x1="918.3" y1="334.45" x2="941.45" y2="334.45"/><line x1="941.45" y1="334.45" x2="964.59" y2="334.45"/><line x1="964.59" y1="334.45" x2="987.74" y2="334.45"/><line x1="987.74" y1="334.45" x2="1010.88" y2="334.45"/><line x1="1010.88" y1="334.45" x2="1034.03" y2="334.45"/></g>
<line x1="875.4" y1="438.5" x2="914.3" y2="438.5" stroke="#4f81bd" stroke-width="1.4"/>
<text x="918.8" y="442.9" class="lg">k=5</text>
<line x1="965.9" y1="438.5" x2="1005.7" y2="438.5" stroke="#c0504d" stroke-width="1.4" stroke-dasharray="10 3.75 1.25 3.75"/>
<text x="1010.2" y="442.9" class="lg">k=10</text>
<line x1="875.4" y1="460.8" x2="914.3" y2="460.8" stroke="#9bbb59" stroke-width="1.4" stroke-dasharray="4.5 3.7"/>
<text x="918.8" y="465.2" class="lg">k=20</text>
<line x1="965.9" y1="460.8" x2="1005.7" y2="460.8" stroke="#c9bedd" stroke-width="1.2" stroke-dasharray="1.5 1.2"/>
<text x="1010.2" y="465.2" class="lg">k=50</text>
<text x="726.23" y="300.15" style='font-family:"Liberation Sans", sans-serif;font-weight:bold;font-size:18.55px;' fill="#111" textLength="10.63" lengthAdjust="spacingAndGlyphs">F</text>
<text x="868.86" y="299.45" style='font-family:"Liberation Serif", serif;font-style:italic;font-size:19.61px;' fill="#1e1e1e" textLength="11.38" lengthAdjust="spacingAndGlyphs">σ</text>
<text x="881.67" y="289.75" style='font-family:"Liberation Serif", serif;font-size:9.69px;' fill="#333" textLength="4.85" lengthAdjust="spacingAndGlyphs">2</text>
<text x="880.65" y="304.2" style='font-family:"Liberation Serif", serif;font-style:italic;font-weight:bold;font-size:11.19px;' fill="#333" textLength="12.41" lengthAdjust="spacingAndGlyphs">wy</text>
<text x="897.71" y="301.18" style='font-family:"Liberation Serif", serif;font-size:16.81px;' fill="#4a4a4a" textLength="9.48" lengthAdjust="spacingAndGlyphs">=</text>
<text x="911.56" y="299.26" style='font-family:"Liberation Serif", serif;font-size:19.7px;' fill="#4a4a4a" textLength="21.61" lengthAdjust="spacingAndGlyphs">0.6</text>
<text x="912.35" y="526.69" style='font-family:"Liberation Serif", serif;font-style:italic;font-size:15.58px;' fill="#1e1e1e" textLength="8.15" lengthAdjust="spacingAndGlyphs">σ</text>
<text x="924.36" y="519.15" style='font-family:"Liberation Serif", serif;font-size:6.62px;' fill="#333" textLength="3.31" lengthAdjust="spacingAndGlyphs">2</text>
<text x="921.39" y="530.67" style='font-family:"Liberation Serif", serif;font-style:italic;font-size:6.11px;' fill="#c4c4c4" textLength="11.51" lengthAdjust="spacingAndGlyphs">bp</text>
<text transform="translate(740.99,468.25) rotate(-90)" style='font-family:"Liberation Sans", sans-serif;font-size:9.79px;' fill="#333333" stroke="#333333" stroke-width="0.3" textLength="118.01" lengthAdjust="spacingAndGlyphs">Proportion of I2&gt;50%</text>
</g>
</svg>
</body></html>
